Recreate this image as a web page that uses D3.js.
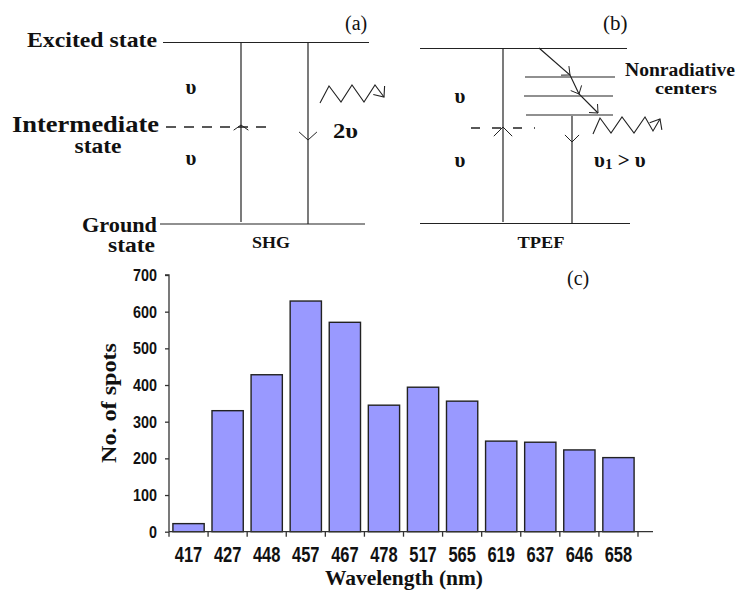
<!DOCTYPE html>
<html><head><meta charset="utf-8">
<script src="https://cdn.jsdelivr.net/npm/d3@7"></script>
<style>
body{margin:0;background:#fff}
.serif{font-family:"Liberation Serif","Times New Roman",Times,serif}
.sans{font-family:"Liberation Sans",Arial,Helvetica,sans-serif}
</style>
</head><body><svg id="c" width="739" height="591"></svg>
<script>
// ---- chart data ----
const wavelengths = ["417","427","448","457","467","478","517","565","619","637","646","658"];
const spotCounts  = [22, 330, 428, 629, 571, 345, 394, 356, 247, 244, 223, 202];
const yTicks      = [0,100,200,300,400,500,600,700];
const xTitle = "Wavelength (nm)";
const yTitle = "No. of spots";

const INK = "#111";
const svg = d3.select("#c");

// ---- helpers ----
function txt(g, s, x, y, size, opts={}) {
  const t = g.append("text").attr("x", x).attr("y", y)
    .attr("class", opts.cls || "serif")
    .attr("font-size", size)
    .attr("font-weight", opts.weight || "bold")
    .attr("fill", INK)
    .attr("text-anchor", opts.anchor || "start")
    .text(s);
  if (opts.len) t.attr("textLength", opts.len).attr("lengthAdjust", "spacingAndGlyphs");
  return t;
}
function line(g, pts, w=1.2, dash=null) {
  const p = g.append("path").attr("d", d3.line()(pts))
    .attr("fill","none").attr("stroke","#222").attr("stroke-width", w);
  if (dash) p.attr("stroke-dasharray", dash);
  return p;
}
function chevron(g, tip, angDeg, L, halfDeg, w=1) {
  const a = angDeg*Math.PI/180, h = halfDeg*Math.PI/180;
  const w1 = [tip[0]-L*Math.cos(a+h), tip[1]-L*Math.sin(a+h)];
  const w2 = [tip[0]-L*Math.cos(a-h), tip[1]-L*Math.sin(a-h)];
  line(g, [w1, tip, w2], w);
}
function zigzag(g, pts, w=1.1) {
  line(g, pts, w);
  const n = pts.length, p = pts[n-1], q = pts[n-2];
  const ang = Math.atan2(p[1]-q[1], p[0]-q[0])*180/Math.PI;
  chevron(g, p, ang, 11, 40, w);
}

// ---- diagram (a): SHG ----
const ga = svg.append("g");
txt(ga, "Excited state", 157, 47, 22, {anchor:"end", len:130});
txt(ga, "Intermediate", 12, 132, 24, {len:147});
txt(ga, "state", 98, 153, 20, {anchor:"middle", len:47});
txt(ga, "Ground", 157, 232, 20, {anchor:"end", len:75});
txt(ga, "state", 155, 252, 20, {anchor:"end", len:47});
txt(ga, "(a)", 345, 30, 20, {weight:"normal"});
txt(ga, "SHG", 271, 248, 17, {anchor:"middle", len:38});
line(ga, [[163,42.5],[369,42.5]]);
line(ga, [[160,224],[365,224]]);
line(ga, [[241,42.5],[241,222]]);
line(ga, [[308,42.5],[308,224]]);
line(ga, [[166,127],[272,127]], 1.4, "10,8");
chevron(ga, [241,125], -90, 9, 55);
chevron(ga, [308,140], 90, 12, 48);
txt(ga, "\u03c5", 191, 94, 21, {anchor:"middle"});
txt(ga, "\u03c5", 191, 165, 21, {anchor:"middle"});
txt(ga, "2\u03c5", 333, 138, 21, {len:25});
zigzag(ga, [[320,103],[329,86],[341,102],[352,85],[364,102],[375,85],[384,97]]);

// ---- diagram (b): TPEF ----
const gb = svg.append("g");
txt(gb, "(b)", 603, 30, 21, {weight:"normal"});
txt(gb, "TPEF", 541, 248, 17, {anchor:"middle", len:47});
line(gb, [[420,48.5],[627,48.5]]);
line(gb, [[420,223.5],[630,223.5]]);
line(gb, [[503,48.5],[503,222]]);
line(gb, [[572,116],[572,223]]);
line(gb, [[525,77],[615,77]]);
line(gb, [[524,96],[613,96]]);
line(gb, [[526,115],[613,115]]);
line(gb, [[471,128],[535,128]], 1.4, "9,12");
chevron(gb, [503,127], -90, 13, 45);
chevron(gb, [572,142], 90, 10, 45);
const diag = [[539,48],[570,75],[579,94],[598,113]];
line(gb, diag);
for (let i=1;i<diag.length;i++){
  const p=diag[i], q=diag[i-1];
  chevron(gb, p, Math.atan2(p[1]-q[1],p[0]-q[0])*180/Math.PI, 9, 42);
}
txt(gb, "Nonradiative", 625, 76, 18, {len:110});
txt(gb, "centers", 686, 94, 17, {anchor:"middle", len:62});
txt(gb, "\u03c5", 460, 103, 21, {anchor:"middle"});
txt(gb, "\u03c5", 460, 167, 21, {anchor:"middle"});
const ineq = txt(gb, "\u03c5", 594, 167, 21);
ineq.append("tspan").attr("font-size", 15).attr("dy", 2).text("1");
ineq.append("tspan").attr("dy", -2).text(" > \u03c5");
zigzag(gb, [[593,134],[600,118],[611,133],[622,117],[634,133],[645,117],[653,131],[660,119]]);

// ---- bar chart (c) ----
const gc = svg.append("g");
const x0 = 169, x1 = 638, yBottom = 531.7, yTop = 275;
const x = d3.scaleBand().domain(wavelengths).range([x0, x1]).paddingInner(0.2).paddingOuter(0.1);
const y = d3.scaleLinear().domain([0, 700]).range([yBottom, yTop]);
const data = wavelengths.map((w,i)=>({w, v: spotCounts[i]}));

gc.selectAll("rect.bar").data(data).enter().append("rect")
  .attr("class","bar")
  .attr("x", d=>x(d.w)).attr("width", x.bandwidth())
  .attr("y", d=>y(d.v)).attr("height", d=>y(0)-y(d.v))
  .attr("fill","#9999ff").attr("stroke","#222").attr("stroke-width",1.4);

// y axis
const yAxis = gc.append("g").attr("transform", `translate(${x0},0)`)
  .call(d3.axisLeft(y).tickValues(yTicks).tickSize(4).tickPadding(8).tickFormat(d3.format("d")));
yAxis.select(".domain").attr("stroke","#333").attr("stroke-width",1.3).attr("d", `M-4,${y(700)}H0V${y(0)}`);
yAxis.selectAll(".tick line").attr("stroke","#333").attr("stroke-width",1.3);
yAxis.selectAll(".tick text").attr("class","sans").attr("font-weight","bold")
  .attr("font-size", 17).attr("fill", INK)
  .attr("textLength", d => String(d).length*8).attr("lengthAdjust","spacingAndGlyphs");

// x axis: labels at band centres, ticks at category boundaries
const xAxis = gc.append("g").attr("transform", `translate(0,${yBottom})`)
  .call(d3.axisBottom(x).tickSize(0).tickPadding(15));
xAxis.select(".domain").remove();
xAxis.selectAll(".tick text").attr("class","sans").attr("font-weight","bold")
  .attr("font-size", 22).attr("fill", INK)
  .attr("textLength", 27.5).attr("lengthAdjust","spacingAndGlyphs");
const step = x.step();
const bounds = d3.range(wavelengths.length+1).map(i => x(wavelengths[0]) - (step - x.bandwidth())/2 + i*step);
gc.append("path").attr("d", `M${x0},${yBottom}H653`).attr("stroke","#333").attr("stroke-width",1.3);
gc.selectAll("line.xt").data(bounds).enter().append("line")
  .attr("x1", d=>d).attr("x2", d=>d).attr("y1", yBottom).attr("y2", yBottom+5)
  .attr("stroke","#333").attr("stroke-width",1.3);

// titles
txt(gc, xTitle, 404, 585, 21, {anchor:"middle", len:158});
txt(gc, yTitle, 0, 0, 22, {anchor:"middle", len:120})
  .attr("transform", `translate(116,403) rotate(-90)`);
txt(gc, "(c)", 567, 285, 20, {weight:"normal"});
</script></body></html>
